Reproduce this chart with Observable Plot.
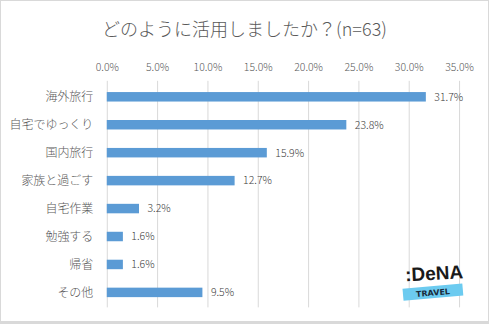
<!DOCTYPE html>
<html><head><meta charset="utf-8">
<script src="https://cdn.jsdelivr.net/npm/d3@7"></script>
<script src="https://cdn.jsdelivr.net/npm/@observablehq/plot@0.6"></script>
<style>
html,body{margin:0;padding:0;background:#fff;}
#wrap{position:relative;width:489px;height:324px;box-sizing:border-box;border:1px solid #d9d9d9;border-bottom-width:3px;overflow:hidden;font-family:"Noto Sans CJK JP",sans-serif;}
#title{position:absolute;left:0;right:0;top:15px;text-align:center;font-size:18px;color:#595959;line-height:24px;font-weight:300;}
#chart{position:absolute;left:-1px;top:-1px;}
#logo{position:absolute;left:398px;top:254px;width:70px;height:50px;}
</style></head>
<body><div id="wrap"><div id="chart"></div><div id="title">どのように活用しましたか？(n=63)</div>
<svg id="logo" width="70" height="50" viewBox="0 0 70 50">
<text x="6" y="25" font-family="Liberation Sans" font-weight="bold" font-size="19" fill="#1a1a1a" transform="rotate(-3 30 18)">:DeNA</text>
<g transform="rotate(-5 35 38)"><rect x="4" y="31" width="60" height="12" fill="#6ccbf0"/>
<text x="34" y="40.5" text-anchor="middle" font-family="DejaVu Sans" font-weight="bold" font-size="8" fill="#1a2a3a">TRAVEL</text></g>
</svg>
</div>
<script>
const categories = ["海外旅行","自宅でゆっくり","国内旅行","家族と過ごす","自宅作業","勉強する","帰省","その他"];
const values = [31.7, 23.8, 15.9, 12.7, 3.2, 1.6, 1.6, 9.5];
const xTicks = [0,5,10,15,20,25,30,35];
const data = categories.map((c,i)=>({cat:c, v:values[i]}));
const chart = Plot.plot({
  width: 489, height: 324,
  marginLeft: 107, marginRight: 29, marginTop: 81, marginBottom: 16,
  style: {fontFamily: '"Noto Sans CJK JP", sans-serif', color: "#595959", background: "transparent"},
  x: {domain:[0,35], label: null},
  y: {domain: categories, padding: 0, label: null},
  marks: [
    Plot.gridX(xTicks, {stroke:"#d9d9d9", strokeOpacity:1}),
    Plot.barX(data, {x:"v", y:"cat", fill:"#5b9bd5", insetTop:9.25, insetBottom:9.25}),
    Plot.text(data, {x:"v", y:"cat", text:d=>d.v.toFixed(1)+"%", textAnchor:"start", dx:8, fill:"#404040", fontSize:10.5, fontWeight:300}),
    Plot.axisX({anchor:"top", ticks:xTicks, tickFormat:d=>d.toFixed(1)+"%", tickSize:0, tickPadding:10, fontSize:10.5, fontWeight:300, fill:"#595959", label:null}),
    Plot.axisY({tickSize:0, tickPadding:14, fontSize:12, fontWeight:300, fill:"#595959", label:null})
  ]
});
document.getElementById("chart").appendChild(chart);
</script></body></html>
